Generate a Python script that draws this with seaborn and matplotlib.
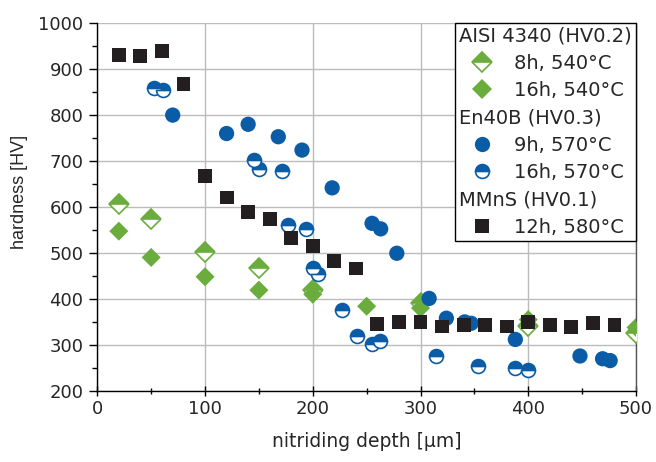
import matplotlib
matplotlib.use("Agg")
import matplotlib.pyplot as plt
import seaborn as sns
from matplotlib.lines import Line2D
from matplotlib.ticker import MultipleLocator

sns.set_style("ticks")
plt.rcParams["font.family"] = ["DejaVu Sans"]

GREEN = "#6aad3c"
BLUE = "#0a5ca6"
BLACK = "#231f20"

# AISI 4340 (HV0.2)
aisi_8h_x = [20, 50, 100, 150, 200, 300, 400, 500]
aisi_8h_y = [607, 573, 502, 468, 420, 392, 342, 325]
aisi_16h_x = [20, 50, 100, 150, 200, 250, 300, 400, 500]
aisi_16h_y = [547, 490, 448, 419, 410, 384, 380, 355, 338]
# En40B (HV0.3)
en_9h_x = [70, 120, 140, 168, 190, 218, 255, 263, 278, 308, 324, 341, 347, 388, 448, 469, 476]
en_9h_y = [799, 759, 779, 752, 723, 641, 564, 552, 499, 401, 358, 350, 347, 312, 276, 270, 266]
en_16h_x = [53, 61, 145, 150, 171, 177, 194, 200, 205, 227, 241, 255, 262, 314, 353, 388, 400]
en_16h_y = [857, 853, 701, 681, 677, 560, 552, 468, 455, 376, 320, 302, 309, 276, 255, 249, 246]
# MMnS (HV0.1)
mm_x = [20, 40, 60, 80, 100, 120, 140, 160, 180, 200, 220, 240, 260, 280, 300, 320,
        340, 360, 380, 400, 420, 440, 460, 480]
mm_y = [929, 928, 938, 866, 667, 620, 589, 574, 532, 514, 482, 466, 346, 350, 350, 340,
        343, 344, 340, 350, 344, 338, 347, 344]

legend_labels = ["AISI 4340 (HV0.2)", "8h, 540°C", "16h, 540°C",
                 "En40B (HV0.3)", "9h, 570°C", "16h, 570°C",
                 "MMnS (HV0.1)", "12h, 580°C"]

W, H = 656, 462
fig = plt.figure(figsize=(W / 100, H / 100), dpi=100)
x0, x1, y0, y1 = 97.3, 636.0, 22.5, 391.0
ax = fig.add_axes([x0 / W, 1 - y1 / H, (x1 - x0) / W, (y1 - y0) / H])

DMS = 9.7   # diamond size (pt)
CMS = 11.0  # circle size
SMS = 10.0  # square size

# half-filled diamonds (8h)
ax.plot(aisi_8h_x, aisi_8h_y, linestyle="none", marker="D", ms=DMS,
        fillstyle="top", markerfacecolor=GREEN, markerfacecoloralt="white",
        markeredgecolor=GREEN, markeredgewidth=1.2, zorder=3)
# filled diamonds (16h)
sns.scatterplot(x=aisi_16h_x, y=aisi_16h_y, marker="D", s=DMS ** 2, color=GREEN,
                edgecolor="none", linewidth=0, ax=ax, zorder=3.1, legend=False)
# filled circles (9h)
sns.scatterplot(x=en_9h_x, y=en_9h_y, marker="o", s=CMS ** 2, color=BLUE,
                edgecolor="none", linewidth=0, ax=ax, zorder=4, legend=False)
# half circles (16h)
ax.plot(en_16h_x, en_16h_y, linestyle="none", marker="o", ms=CMS - 1,
        fillstyle="top", markerfacecolor=BLUE, markerfacecoloralt="white",
        markeredgecolor=BLUE, markeredgewidth=1.2, zorder=4.1)
# squares
sns.scatterplot(x=mm_x, y=mm_y, marker="s", s=SMS ** 2, color=BLACK,
                edgecolor="none", linewidth=0, ax=ax, zorder=5, legend=False)

ax.set_xlim(0, 500)
ax.set_ylim(200, 1000)
ax.xaxis.set_major_locator(MultipleLocator(100))
ax.xaxis.set_minor_locator(MultipleLocator(50))
ax.yaxis.set_major_locator(MultipleLocator(100))
ax.yaxis.set_minor_locator(MultipleLocator(50))
ax.grid(True, which="major", color="#bcbcbc", linewidth=1)
ax.set_axisbelow(True)

for s in ["left", "bottom"]:
    ax.spines[s].set_color("black")
    ax.spines[s].set_linewidth(1)
ax.spines["top"].set_visible(False)
ax.spines["right"].set_visible(True)
ax.spines["right"].set_color("#555555")
ax.spines["right"].set_linewidth(1)

ax.tick_params(axis="x", which="major", direction="inout", length=7, width=1,
               color="black", labelsize=13, pad=3)
ax.tick_params(axis="x", which="minor", direction="inout", length=5, width=1, color="black")
ax.tick_params(axis="y", which="major", direction="out", length=6, width=1,
               color="black", labelsize=13, pad=4)
ax.tick_params(axis="y", which="minor", direction="out", length=3.5, width=1, color="black")
ax.tick_params(right=False, top=False, which="both")

ax.set_xlabel("nitriding depth [µm]", fontsize=13.5, labelpad=10)
ax.set_ylabel("hardness [HV]", fontsize=13, family=["Liberation Sans", "DejaVu Sans"])
ax.yaxis.set_label_coords(-0.128, 0.54)

# legend
blank = Line2D([], [], linestyle="none", marker=None)
h_8h = Line2D([], [], linestyle="none", marker="D", ms=DMS, fillstyle="top",
              markerfacecolor=GREEN, markerfacecoloralt="white",
              markeredgecolor=GREEN, markeredgewidth=1.2)
h_16h = Line2D([], [], linestyle="none", marker="D", ms=DMS, color=GREEN,
               markeredgewidth=0)
h_9h = Line2D([], [], linestyle="none", marker="o", ms=CMS, color=BLUE,
              markeredgewidth=0)
h_16c = Line2D([], [], linestyle="none", marker="o", ms=CMS - 1, fillstyle="top",
               markerfacecolor=BLUE, markerfacecoloralt="white",
               markeredgecolor=BLUE, markeredgewidth=1.2)
h_sq = Line2D([], [], linestyle="none", marker="s", ms=SMS, color=BLACK,
              markeredgewidth=0)
handles = [blank, h_8h, h_16h, blank, h_9h, h_16c, blank, h_sq]

leg = ax.legend(handles, legend_labels, loc="upper right", bbox_to_anchor=(1, 1),
                borderaxespad=0, frameon=True, fancybox=False, framealpha=1,
                edgecolor="black", fontsize=14, numpoints=1,
                handlelength=2.37, handletextpad=0.46, borderpad=0.2,
                labelspacing=0.43)
leg.get_frame().set_linewidth(1)
leg.set_zorder(10)
rows = leg._legend_handle_box.get_children()[0].get_children()
for i in (0, 3, 6):
    rows[i].sep = 0
    rows[i].get_children()[0].width = 0

fig.savefig("out.png", dpi=100)
